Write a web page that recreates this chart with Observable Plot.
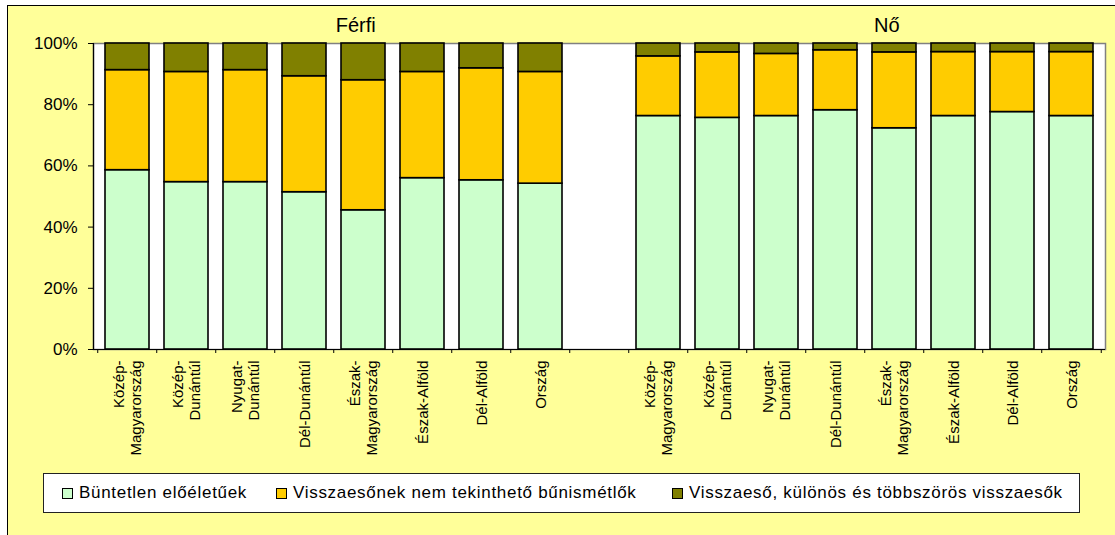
<!DOCTYPE html>
<html>
<head>
<meta charset="utf-8">
<script src="https://cdn.jsdelivr.net/npm/d3@7"></script>
<script src="https://cdn.jsdelivr.net/npm/@observablehq/plot@0.6"></script>
<style>
  html, body { margin: 0; padding: 0; background: #ffffff; width: 1115px; height: 535px; overflow: hidden; }
  #chart {
    position: absolute; left: 7px; top: 5px; width: 1120px; height: 540px;
    background: #FFFF99; border-left: 1px solid #000; border-top: 1px solid #000;
    font-family: "Liberation Sans", Arial, sans-serif;
  }
  #chart svg { position: absolute; left: 0; top: 0; }
  #legend {
    position: absolute; left: 35px; top: 467px; width: 1035px; height: 38px;
    background: #fff; border: 1px solid #222;
  }
  .item { position: absolute; top: 0; height: 38px; display: flex; align-items: center; font-size: 17px; letter-spacing: 0.7px; color: #000; white-space: nowrap; }
  .sw { width: 9px; height: 9px; border: 1px solid #000; margin-right: 6px; }
</style>
</head>
<body>
<div id="chart"></div>
<script>
// ---- data (percent of each region) ----
const groups = ["Férfi", "Nő"];
const regions = ["Közép-Magyarország", "Közép-Dunántúl", "Nyugat-Dunántúl", "Dél-Dunántúl",
                 "Észak-Magyarország", "Észak-Alföld", "Dél-Alföld", "Ország"];
const tickLabels = ["Közép-\nMagyarország", "Közép-\nDunántúl", "Nyugat-\nDunántúl", "Dél-Dunántúl",
                    "Észak-\nMagyarország", "Észak-Alföld", "Dél-Alföld", "Ország"];
const seriesNames = ["Büntetlen előéletűek", "Visszaesőnek nem tekinthető bűnismétlők",
                     "Visszaeső, különös és többszörös visszaesők"];
const seriesColors = ["#CCFFCC", "#FFCC00", "#808000"];

const ferfiBuntetlen   = [58.6, 54.7, 54.7, 51.4, 45.5, 56.0, 55.3, 54.2];
const ferfiNemVisszaes = [32.7, 36.0, 36.6, 37.9, 42.5, 34.7, 36.6, 36.5];
const ferfiVisszaeso   = [ 8.7,  9.3,  8.7, 10.7, 12.0,  9.3,  8.1,  9.3];

const noBuntetlen      = [76.3, 75.7, 76.3, 78.2, 72.3, 76.3, 77.6, 76.3];
const noNemVisszaes    = [19.5, 21.4, 20.3, 19.6, 24.8, 20.9, 19.6, 20.9];
const noVisszaeso      = [ 4.2,  2.9,  3.4,  2.2,  2.9,  2.8,  2.8,  2.8];

const yTicks = [0, 20, 40, 60, 80, 100];

// ---- build table ----
const keysF = regions.map((r, i) => "F" + i);
const keysN = regions.map((r, i) => "N" + i);
const domain = [...keysF, "gap", ...keysN];
const labelOf = new Map();
regions.forEach((r, i) => { labelOf.set("F" + i, tickLabels[i]); labelOf.set("N" + i, tickLabels[i]); });
labelOf.set("gap", "");

const rows = [];
const add = (keys, arrs) => keys.forEach((k, i) => arrs.forEach((a, s) => rows.push({key: k, series: seriesNames[s], value: a[i]})));
add(keysF, [ferfiBuntetlen, ferfiNemVisszaes, ferfiVisszaeso]);
add(keysN, [noBuntetlen, noNemVisszaes, noVisszaeso]);

const titles = [{key: "F4", label: groups[0]}, {key: "N4", label: groups[1]}];

// ---- layout ----
const W = 1107, H = 462, ML = 85, MR = 10, MT = 37, MB = 119;
const PO = 0.13;
const step = (W - ML - MR) / domain.length;

const chart = Plot.plot({
  width: W, height: H,
  marginLeft: ML, marginRight: MR, marginTop: MT, marginBottom: MB,
  style: {background: "transparent", fontFamily: "'Liberation Sans', Arial, sans-serif", fontSize: "15px", color: "#000", overflow: "visible"},
  x: {domain, paddingInner: 0.26, paddingOuter: PO, axis: null, label: null},
  y: {domain: [0, 100], axis: null, label: null},
  color: {domain: seriesNames, range: seriesColors},
  marks: [
    Plot.frame({fill: "#ffffff", stroke: "#808080", strokeWidth: 1.5}),
    Plot.barY(rows, Plot.stackY({x: "key", y: "value", fill: "series", stroke: "#000", strokeWidth: 1.6, order: null})),
    Plot.ruleY([0], {stroke: "#000", strokeWidth: 1.2}),
    Plot.frame({anchor: "left", stroke: "#000", strokeWidth: 1.2}),
    Plot.axisY({ticks: yTicks, tickFormat: d => d + "%", tickSize: 5, tickPadding: 11, fontSize: 17, stroke: "#000", label: null}),
    // tick marks at category boundaries
    Plot.axisX({tickSize: 4, tickFormat: () => "", dx: -step / 2, stroke: "#000", label: null}),
    Plot.axisX({ticks: [domain[domain.length - 1]], tickSize: 4, tickFormat: () => "", dx: step / 2, stroke: "#000", label: null}),
    // rotated category labels
    Plot.axisX({tickSize: 0, tickPadding: 11, tickRotate: -90, textAnchor: "end", lineAnchor: "middle",
                lineHeight: 1.13, tickFormat: k => labelOf.get(k), label: null}),
    Plot.text(titles, {x: "key", text: "label", frameAnchor: "top", dx: -step * PO, dy: -26, fontSize: 20, fill: "#000"})
  ]
});
document.getElementById("chart").appendChild(chart);

// ---- legend (HTML, below the svg) ----
const legend = document.createElement("div");
legend.id = "legend";
const itemLeft = [18, 232, 628];
seriesNames.forEach((name, i) => {
  const it = document.createElement("div");
  it.className = "item";
  it.style.left = itemLeft[i] + "px";
  const sw = document.createElement("span");
  sw.className = "sw";
  sw.style.background = seriesColors[i];
  const tx = document.createElement("span");
  tx.textContent = name;
  it.appendChild(sw); it.appendChild(tx);
  legend.appendChild(it);
});
document.getElementById("chart").appendChild(legend);
</script>
</body>
</html>
